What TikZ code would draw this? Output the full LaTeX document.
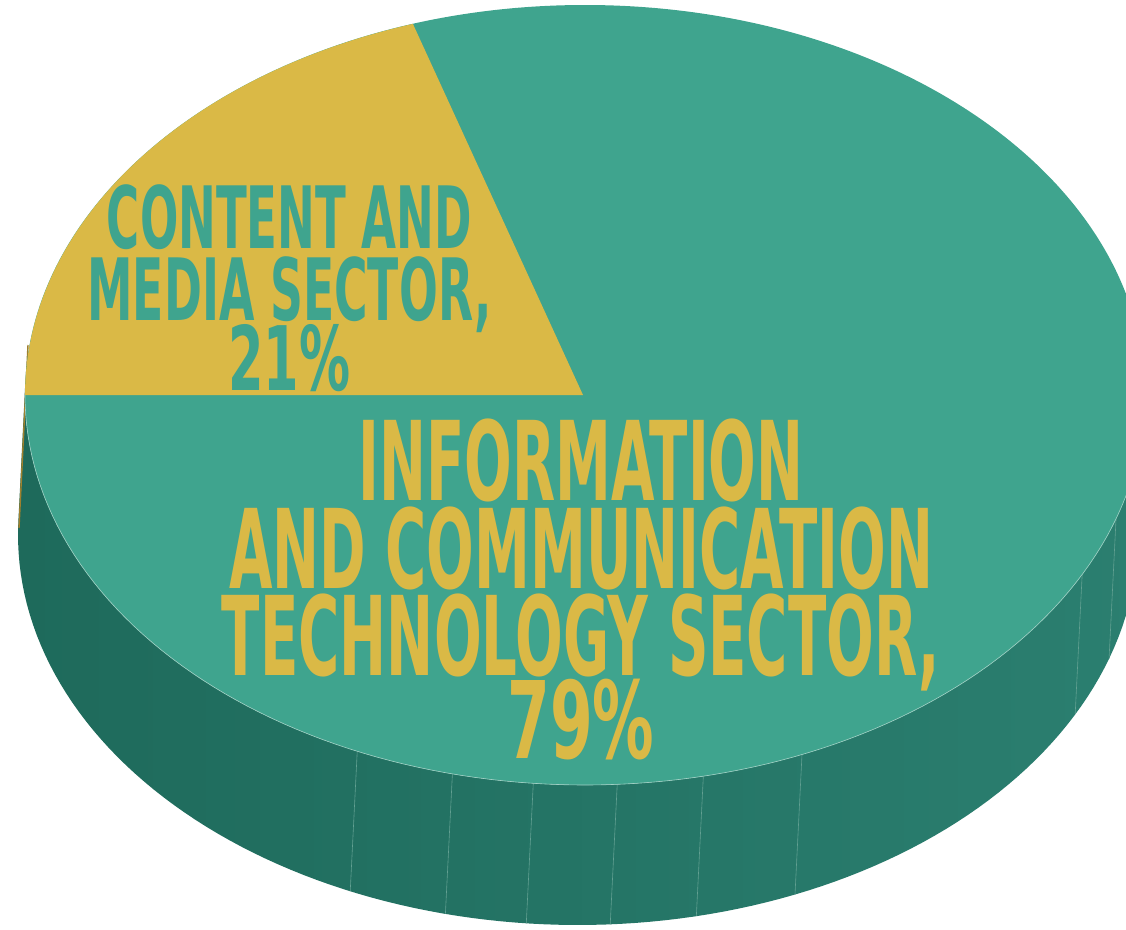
\documentclass[tikz,border=0pt]{standalone}
\usepackage{fontspec}
\usepackage{graphicx}
\newfontfamily\sectorfont{DejaVu Sans Condensed Bold}
\definecolor{pieteal}{RGB}{63,164,142}
\definecolor{pieyellow}{RGB}{218,185,70}
\definecolor{sidedark}{RGB}{30,106,91}
\definecolor{sidelight}{RGB}{43,127,112}
\definecolor{sideline}{RGB}{98,160,146}
\definecolor{rimline}{RGB}{160,208,196}
\definecolor{goldedge}{RGB}{160,128,45}
\newcommand{\sectorline}[3]{\resizebox{#1pt}{\height}{\fontsize{#2}{#2}\selectfont\sectorfont #3}}
\newcommand{\sectorlines}[1]{\fontsize{60pt}{#1}\selectfont\lineskiplimit=-200pt\relax}

\begin{document}
\begin{tikzpicture}[x=1pt,y=-1pt]
\useasboundingbox (0,0) rectangle (1126,929);
\clip (0,0) rectangle (1126,929);
\shade[left color=sidedark,right color=sidelight] (1145,395) -- plot[domain=0:182,samples=120] ({578+560*cos(\x)},{535+390*sin(\x)}) -- plot[domain=182:0,samples=120] ({585+560*cos(\x)},{395+390*sin(\x)}) -- cycle;
\foreach \a in {114,103.7,95.3,86.7,77.8,67.2,27.4,18.5}
  \draw[sideline,line width=0.6pt] ({585+560*cos(\a)},{395+390*sin(\a)}) -- ({578+560*cos(\a)},{535+390*sin(\a)});
\draw[goldedge,line width=1.4pt] (28,345) -- (19,528);
\fill[pieteal] (585,395) ellipse[x radius=560,y radius=390];
\draw[rimline,line width=0.6pt] plot[domain=0:180,samples=120] ({585+560*cos(\x)},{395+390*sin(\x)});
\fill[pieyellow] (583,395) -- plot[domain=180:252.1,samples=60] ({585+560*cos(\x)},{395+390*sin(\x)}) -- cycle;
\node[inner sep=0,anchor=north,align=center,text=pieteal,font=\sectorlines{70pt}] (cmlabel) at (289.5,184)
  {\sectorline{365}{86pt}{CONTENT AND}\\[2pt]\sectorline{404}{86pt}{MEDIA SECTOR,}\\\sectorline{122}{89pt}{21\%}};
\node[inner sep=0,anchor=north,align=center,text=pieyellow,font=\sectorlines{83pt}] (ictlabel) at (581,419)
  {\sectorline{445}{110pt}{INFORMATION}\\[5pt]\sectorline{704}{110pt}{AND COMMUNICATION}\\[4pt]\sectorline{718}{110pt}{TECHNOLOGY SECTOR,}\\\sectorline{147}{107pt}{79\%}};
\end{tikzpicture}
\end{document}
